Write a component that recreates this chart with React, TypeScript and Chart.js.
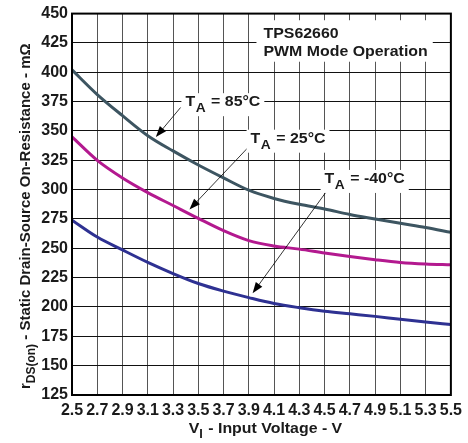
import React, { useEffect, useRef } from "react";
import { Chart, registerables } from "chart.js";

Chart.register(...registerables);

const FONT = '"Liberation Sans", Arial, Helvetica, sans-serif';

// Input voltage (V)
const voltages = [2.5, 2.7, 2.9, 3.1, 3.3, 3.5, 3.7, 3.9, 4.1, 4.3, 4.5, 4.7, 4.9, 5.1, 5.3, 5.5];
// Static drain-source on-resistance (mOhm)
const rds85 = [402, 381, 363, 346, 333, 321, 310, 299.5, 292.5, 287.5, 283.5, 278.8, 275, 271.3, 267.8, 263.6];
const rds25 = [345, 325, 310, 297.5, 286.5, 275.5, 265, 256.5, 252, 249.3, 246, 243, 240.3, 238, 236.7, 236];
const rdsM40 = [274, 259.6, 248.6, 238, 228.5, 220, 213.5, 208, 203, 199.4, 196.4, 194.2, 192, 189.5, 187.2, 185];

const xTickValues = [2.5, 2.7, 2.9, 3.1, 3.3, 3.5, 3.7, 3.9, 4.1, 4.3, 4.5, 4.7, 4.9, 5.1, 5.3, 5.5];
const yTickValues = [125, 150, 175, 200, 225, 250, 275, 300, 325, 350, 375, 400, 425, 450];

const seriesLabels = ["85°C", "25°C", "-40°C"];
const titleLines = ["TPS62660", "PWM Mode Operation"];

// callout anchors in data units
const callouts = [
  { text: " = 85°C", lx: 3.398, ly: 371.1, sx: 3.36, sy: 370, tx: 3.164, ty: 344.8 },
  { text: " = 25°C", lx: 3.914, ly: 340.0, sx: 3.945, sy: 341.7, tx: 3.43, ty: 283.1 },
  { text: " = -40°C", lx: 4.5, ly: 305.7, sx: 4.53, sy: 300.7, tx: 3.93, ty: 211.6 },
];
const titleAnchor = { x: 4.016, y1: 429.0, y2: 414.1 };

type Part = { t: string; sub?: boolean; gap?: number };
const STRETCH = 1.06;

function measureRich(ctx: CanvasRenderingContext2D, parts: Part[], size: number, subSize: number, sx = 1) {
  let w = 0;
  for (const p of parts) {
    ctx.font = `bold ${p.sub ? subSize : size}px ${FONT}`;
    w += ctx.measureText(p.t).width + (p.gap || 0);
  }
  return w * sx;
}

function drawRich(ctx: CanvasRenderingContext2D, x: number, y: number, parts: Part[], size: number, subSize: number, subDy: number, sx = 1) {
  ctx.save();
  ctx.translate(x, y);
  ctx.scale(sx, 1);
  let cx = 0;
  ctx.textBaseline = "alphabetic";
  ctx.textAlign = "left";
  for (const p of parts) {
    ctx.font = `bold ${p.sub ? subSize : size}px ${FONT}`;
    ctx.fillText(p.t, cx, p.sub ? subDy : 0);
    cx += ctx.measureText(p.t).width + (p.gap || 0);
  }
  ctx.restore();
}

function arrow(ctx: CanvasRenderingContext2D, x1: number, y1: number, x2: number, y2: number) {
  const ang = Math.atan2(y2 - y1, x2 - x1);
  const L = 11, W = 4;
  ctx.strokeStyle = "#000";
  ctx.fillStyle = "#000";
  ctx.lineWidth = 0.8;
  ctx.beginPath();
  ctx.moveTo(x1, y1);
  ctx.lineTo(x2 - Math.cos(ang) * L * 0.8, y2 - Math.sin(ang) * L * 0.8);
  ctx.stroke();
  ctx.beginPath();
  ctx.moveTo(x2, y2);
  ctx.lineTo(x2 - Math.cos(ang) * L - Math.sin(ang) * W, y2 - Math.sin(ang) * L + Math.cos(ang) * W);
  ctx.lineTo(x2 - Math.cos(ang) * L + Math.sin(ang) * W, y2 - Math.sin(ang) * L - Math.cos(ang) * W);
  ctx.closePath();
  ctx.fill();
}

const annotPlugin = {
  id: "annot",
  afterDatasetsDraw(chart: any) {
    const ctx: CanvasRenderingContext2D = chart.ctx;
    const xs = chart.scales.x;
    const ys = chart.scales.y;
    ctx.save();
    callouts.forEach((c) => {
      const sx = xs.getPixelForValue(c.sx), sy = ys.getPixelForValue(c.sy);
      const tx = xs.getPixelForValue(c.tx), ty = ys.getPixelForValue(c.ty);
      arrow(ctx, sx, sy, tx, ty);
      const parts: Part[] = [{ t: "T", gap: 0.5 }, { t: "A", sub: true, gap: 1 }, { t: c.text }];
      const lx = xs.getPixelForValue(c.lx), ly = ys.getPixelForValue(c.ly);
      const w = measureRich(ctx, parts, 15, 13, STRETCH);
      ctx.fillStyle = "#fff";
      ctx.fillRect(lx - 4, ly - 13, w + 8, 23);
      ctx.fillStyle = "#1a1a1a";
      drawRich(ctx, lx, ly, parts, 15, 13, 6, STRETCH);
    });
    const tx = xs.getPixelForValue(titleAnchor.x);
    const y1 = ys.getPixelForValue(titleAnchor.y1);
    const y2 = ys.getPixelForValue(titleAnchor.y2);
    const w = Math.max(...titleLines.map((t) => measureRich(ctx, [{ t }], 15, 15, STRETCH)));
    ctx.fillStyle = "#fff";
    ctx.fillRect(tx - 7, y1 - 18, w + 12, y2 - y1 + 24);
    ctx.fillStyle = "#1a1a1a";
    drawRich(ctx, tx, y1, [{ t: titleLines[0] }], 15, 15, 0, STRETCH);
    drawRich(ctx, tx, y2, [{ t: titleLines[1] }], 15, 15, 0, STRETCH);
    ctx.restore();
  },
  afterDraw(chart: any) {
    const ctx: CanvasRenderingContext2D = chart.ctx;
    const a = chart.chartArea;
    ctx.save();
    ctx.strokeStyle = "#000";
    ctx.lineWidth = 2;
    ctx.strokeRect(a.left, a.top, a.right - a.left, a.bottom - a.top);
    ctx.fillStyle = "#1a1a1a";
    const xParts: Part[] = [{ t: "V" }, { t: "I", sub: true, gap: 1 }, { t: " - Input Voltage - V" }];
    const xw = measureRich(ctx, xParts, 15, 12, STRETCH);
    drawRich(ctx, (a.left + a.right) / 2 - xw / 2 + 4, 433, xParts, 15, 12, 5, STRETCH);
    const yParts: Part[] = [{ t: "r" }, { t: "DS(on)", sub: true }, { t: " - Static Drain-Source On-Resistance - mΩ" }];
    const yw = measureRich(ctx, yParts, 15, 12);
    ctx.translate(30, (a.top + a.bottom) / 2 + 12);
    ctx.rotate(-Math.PI / 2);
    drawRich(ctx, -yw / 2, 0, yParts, 15, 12, 5);
    ctx.restore();
  },
};

export default function App() {
  const ref = useRef<HTMLCanvasElement>(null);
  useEffect(() => {
    if (!ref.current) return;
    const mk = (vals: number[]) => voltages.map((v, i) => ({ x: v, y: vals[i] }));
    const chart = new Chart(ref.current, {
      type: "line",
      data: {
        datasets: [
          { label: seriesLabels[0], data: mk(rds85), borderColor: "#3d5561", borderWidth: 3, pointRadius: 0, cubicInterpolationMode: "monotone" },
          { label: seriesLabels[1], data: mk(rds25), borderColor: "#b3198f", borderWidth: 3, pointRadius: 0, cubicInterpolationMode: "monotone" },
          { label: seriesLabels[2], data: mk(rdsM40), borderColor: "#2e3192", borderWidth: 3, pointRadius: 0, cubicInterpolationMode: "monotone" },
        ],
      },
      options: {
        animation: false,
        responsive: true,
        maintainAspectRatio: false,
        layout: { padding: { top: 12, right: 12, left: 0, bottom: 0 } },
        plugins: { legend: { display: false }, tooltip: { enabled: false } },
        scales: {
          x: {
            type: "linear",
            min: 2.5,
            max: 5.5,
            afterBuildTicks: (s: any) => { s.ticks = xTickValues.map((v) => ({ value: v })); },
            afterFit: (s: any) => { s.height = 48; },
            grid: { color: "#555", lineWidth: 1, drawTicks: false },
            border: { display: false },
            ticks: {
              padding: 6,
              color: "#1a1a1a",
              font: { family: FONT, size: 16, weight: "bold" },
              maxRotation: 0,
              autoSkip: false,
              callback: (v: any) => Number(v).toFixed(1),
            },
          },
          y: {
            type: "linear",
            min: 125,
            max: 450,
            afterBuildTicks: (s: any) => { s.ticks = yTickValues.map((v) => ({ value: v })); },
            afterFit: (s: any) => { s.width = 72; },
            grid: { color: "#111", lineWidth: 1, drawTicks: false },
            border: { display: false },
            ticks: {
              padding: 4,
              color: "#1a1a1a",
              font: { family: FONT, size: 16, weight: "bold" },
              autoSkip: false,
            },
          },
        },
      },
      plugins: [annotPlugin],
    } as any);
    return () => chart.destroy();
  }, []);
  return (
    <div style={{ position: "fixed", left: 0, top: 0, width: 468, height: 443, background: "#fff" }}>
      <canvas ref={ref} />
    </div>
  );
}
